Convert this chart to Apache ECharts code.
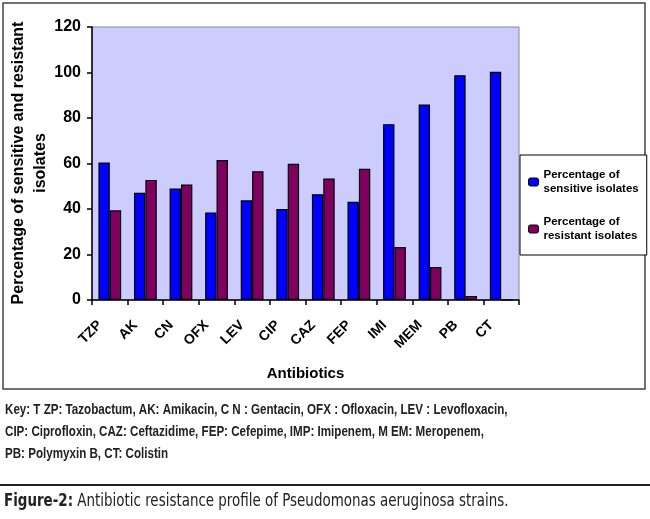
<!DOCTYPE html>
<html>
<head>
<meta charset="utf-8">
<script src="https://cdn.jsdelivr.net/npm/echarts@6/dist/echarts.min.js"></script>
<style>
  html, body { margin: 0; padding: 0; background: #fff; }
  #main { width: 650px; height: 519px; }
</style>
</head>
<body>
<div id="main"></div>
<script type="text/javascript">
// antibiotics on the x axis
var antibiotics = ['TZP', 'AK', 'CN', 'OFX', 'LEV', 'CIP', 'CAZ', 'FEP', 'IMI', 'MEM', 'PB', 'CT'];
// percentages
var sensitive = [60.4, 47.1, 49.0, 38.5, 43.8, 40.0, 46.5, 43.2, 77.3, 85.9, 98.8, 100.3];
var resistant = [39.4, 52.8, 50.8, 61.5, 56.6, 59.9, 53.4, 57.7, 23.3, 14.5, 1.8, 0];
var yTicks = [0, 20, 40, 60, 80, 100, 120];
var yTitle = 'Percentage of sensitive and resistant\nisolates';

var keyLines = [
    'Key: T ZP: Tazobactum, AK: Amikacin, C N : Gentacin, OFX : Ofloxacin, LEV : Levofloxacin,',
    'CIP: Ciprofloxin, CAZ: Ceftazidime, FEP: Cefepime, IMP: Imipenem, M EM: Meropenem,',
    'PB: Polymyxin B, CT: Colistin'
];

var arial = "'Liberation Sans', Arial, sans-serif";
var narrow = "'Liberation Sans Narrow', 'DejaVu Sans Condensed', sans-serif";

var myChart = echarts.init(document.getElementById('main'));

var option = {
    animation: false,
    backgroundColor: '#fff',
    textStyle: { fontFamily: arial },
    grid: {
        left: 92, right: 131, top: 27, bottom: 219,
        outerBoundsMode: 'none',
        containLabel: false,
        show: true,
        backgroundColor: '#CCCCFF',
        borderColor: '#8a8a8a',
        borderWidth: 1
    },
    legend: {
        orient: 'vertical',
        left: 520, top: 155,
        width: 122,
        padding: [13, 8, 12, 8],
        itemGap: 19,
        itemWidth: 10, itemHeight: 8,
        borderColor: '#000', borderWidth: 1,
        backgroundColor: '#fff',
        textStyle: { fontFamily: arial, fontWeight: 'bold', fontSize: 11.5, color: '#000', lineHeight: 14 },
        data: [
            { name: 'Percentage of\nsensitive isolates', itemStyle: { borderColor: '#000', borderWidth: 1 } },
            { name: 'Percentage of\nresistant isolates', itemStyle: { borderColor: '#000', borderWidth: 1 } }
        ]
    },
    xAxis: {
        type: 'category',
        data: antibiotics,
        name: 'Antibiotics',
        nameLocation: 'middle',
        nameGap: 66,
        nameMoveOverlap: false,
        nameTextStyle: { fontFamily: arial, fontWeight: 'bold', fontSize: 15, color: '#000' },
        axisLine: { lineStyle: { color: '#000', width: 1.5 } },
        axisTick: { show: true, alignWithLabel: false, length: 5, lineStyle: { color: '#000', width: 1.5 } },
        axisLabel: { rotate: 45, margin: 13, padding: [0, 14, 0, 0], fontFamily: arial, fontWeight: 'bold', fontSize: 14, color: '#000' }
    },
    yAxis: {
        type: 'value',
        min: yTicks[0], max: yTicks[yTicks.length - 1], interval: 20,
        axisLine: { show: true, lineStyle: { color: '#000', width: 1.5 } },
        axisTick: { show: true, length: 5, lineStyle: { color: '#000', width: 1.5 } },
        splitLine: { show: false },
        axisLabel: { margin: 11, fontFamily: arial, fontWeight: 'bold', fontSize: 16, color: '#000' }
    },
    series: [
        {
            name: 'Percentage of\nsensitive isolates',
            type: 'bar',
            data: sensitive,
            barGap: '0%',
            barCategoryGap: '36%',
            itemStyle: { color: '#0000FF', borderColor: '#000', borderWidth: 1.2 }
        },
        {
            name: 'Percentage of\nresistant isolates',
            type: 'bar',
            data: resistant,
            itemStyle: { color: '#800060', borderColor: '#000', borderWidth: 1.2 }
        }
    ],
    graphic: [
        { type: 'rect', shape: { x: 3, y: 3, width: 642, height: 386 }, style: { fill: null, stroke: '#444', lineWidth: 1.5 }, z: -1 },
        // y axis title, drawn rotated
        {
            type: 'text', x: 30, y: 163, rotation: Math.PI / 2,
            style: { text: yTitle, fill: '#000', fontFamily: arial, fontWeight: 'bold', fontSize: 16, lineHeight: 22, align: 'center', verticalAlign: 'middle' }
        },
        {
            type: 'text', x: 5, y: 399, scaleX: 0.8,
            style: { text: keyLines.join('\n'), fill: '#222', fontFamily: arial, fontWeight: 'bold', fontSize: 14.5, lineHeight: 22 }
        },
        { type: 'line', shape: { x1: 0, y1: 485, x2: 650, y2: 485 }, style: { stroke: '#222', lineWidth: 2 } },
        {
            type: 'text', x: 4, y: 492, scaleX: 0.83,
            style: {
                text: '{b|Figure-2:} Antibiotic resistance profile of Pseudomonas aeruginosa strains.',
                fill: '#222',
                fontFamily: narrow, fontSize: 18,
                rich: {
                    b: { fontFamily: narrow, fontWeight: 'bold', fontSize: 18, fill: '#222' }
                }
            }
        }
    ]
};

myChart.setOption(option);
</script>
</body>
</html>
